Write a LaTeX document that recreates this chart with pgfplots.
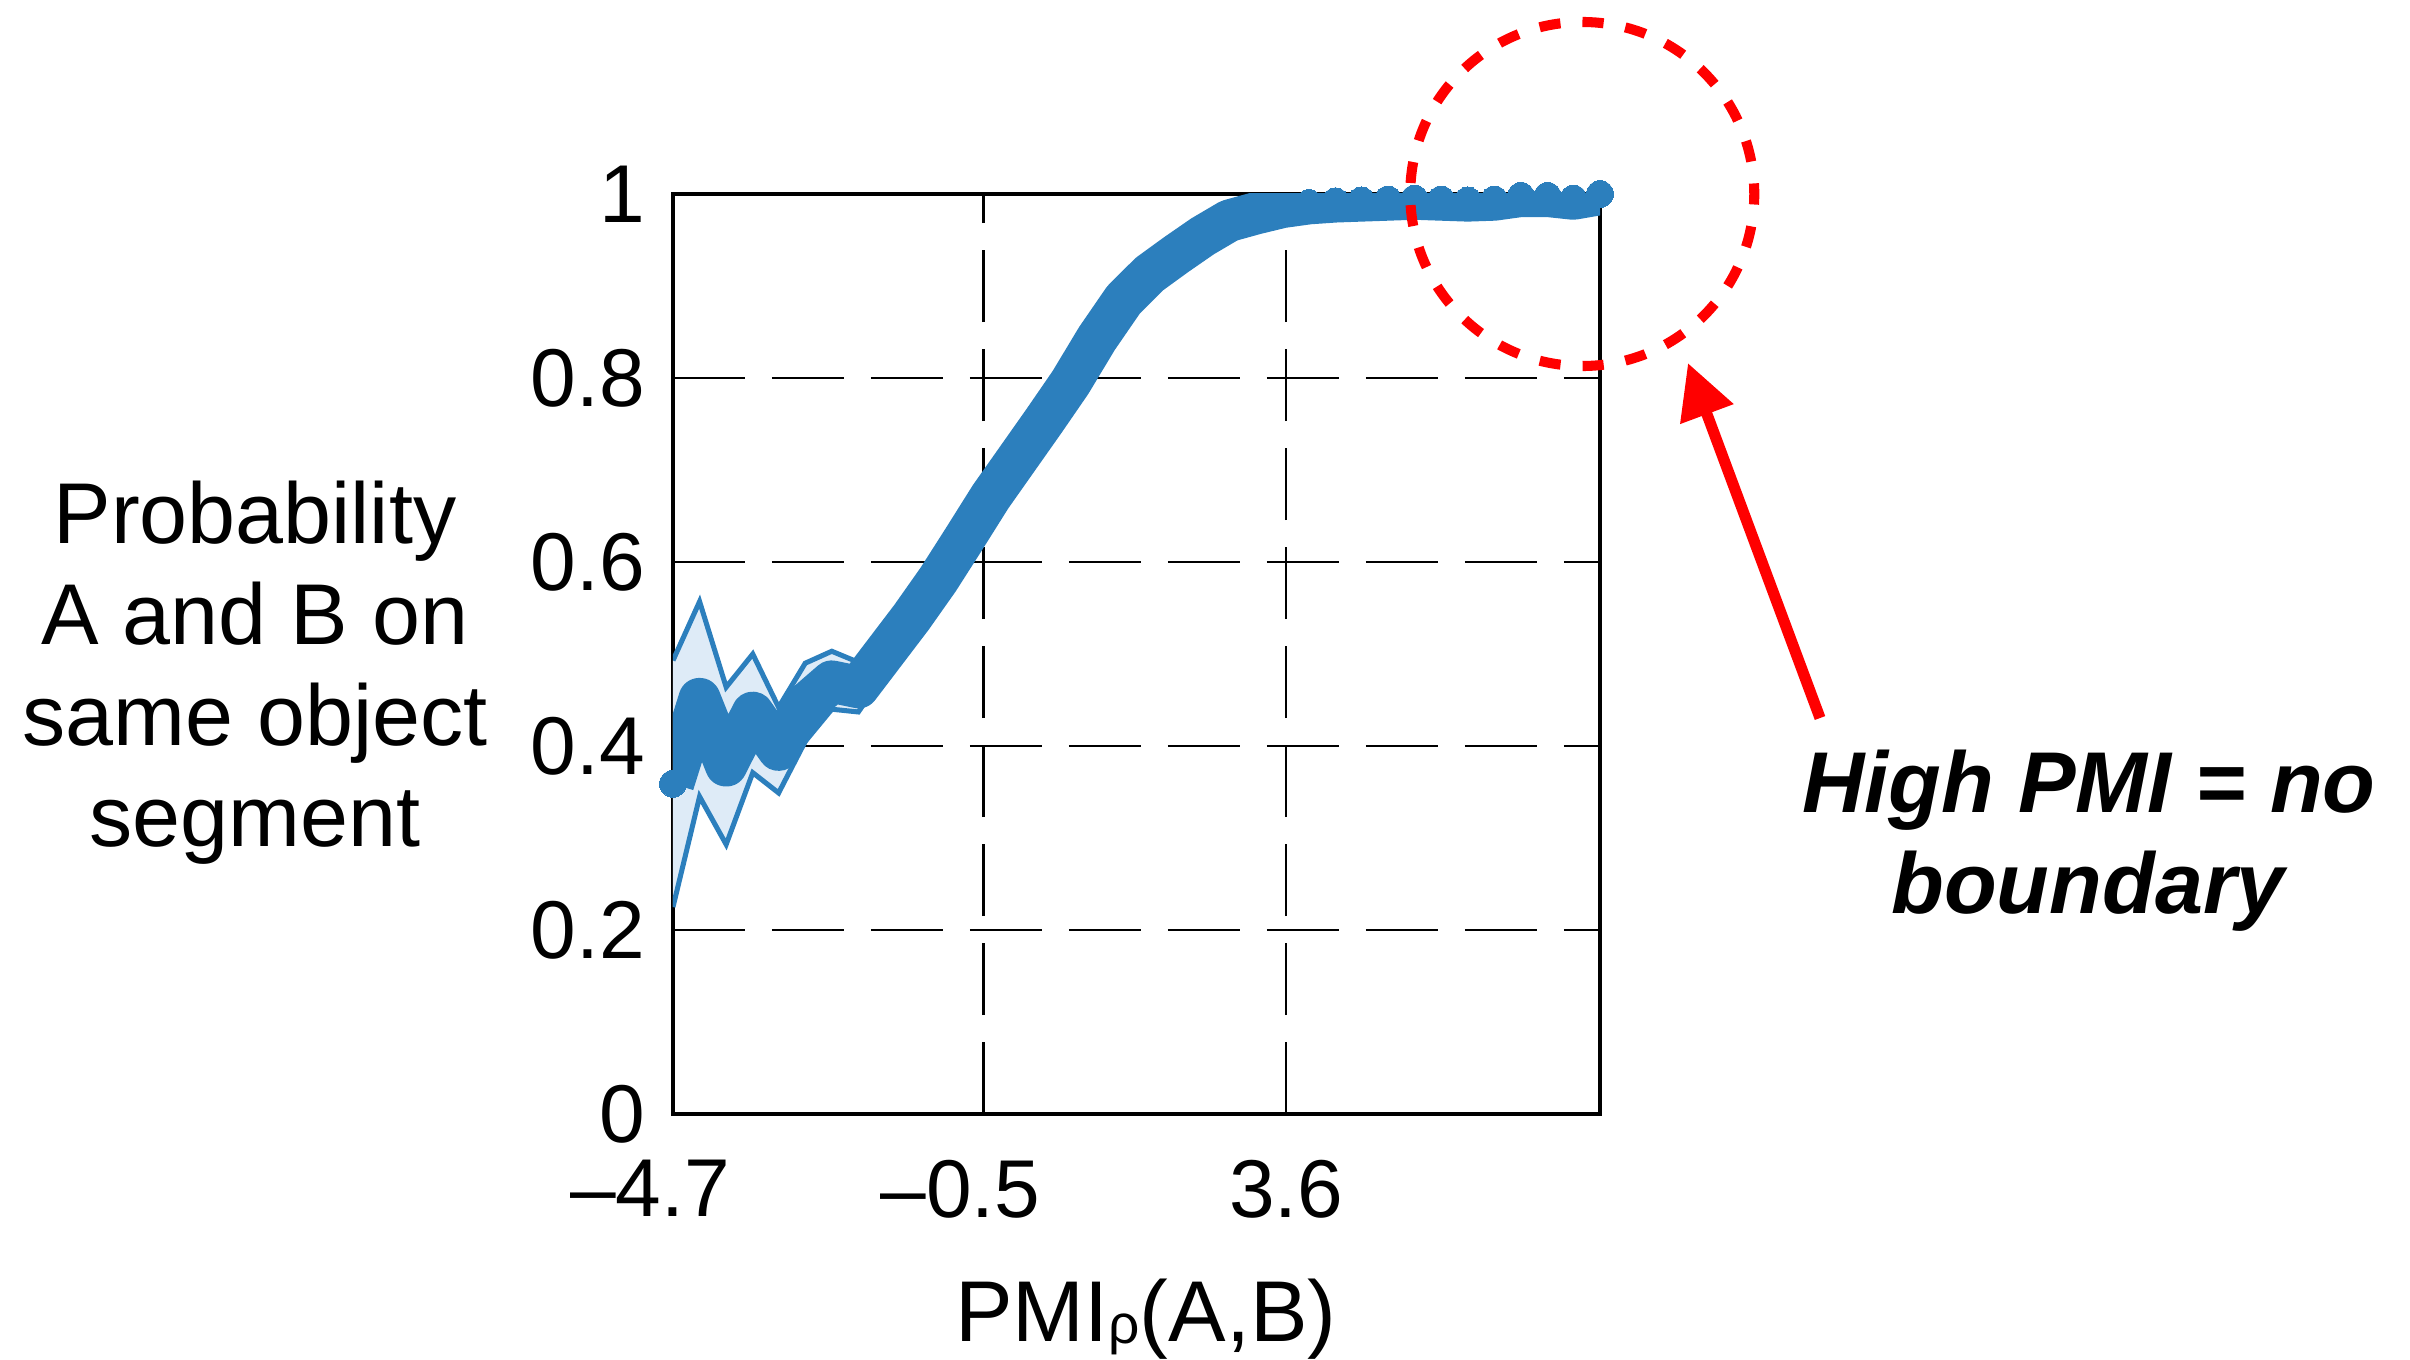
\documentclass[border=0pt]{standalone}
\usepackage{fontspec}
\setmainfont{Liberation Sans}
\usepackage{pgfplots}
\pgfplotsset{compat=1.18}
\usepackage{pgfplotstable}
\usepgfplotslibrary{fillbetween}
\usetikzlibrary{arrows.meta}

\definecolor{mblue}{RGB}{44,127,189}
\definecolor{bandfill}{RGB}{222,235,247}

% PMI bin, mean probability, lower and upper edge of the shaded band
\pgfplotstableread{
x     m     lo    hi
-4.70 0.359 0.225 0.493
-4.34 0.451 0.345 0.557
-3.98 0.379 0.293 0.464
-3.62 0.436 0.371 0.500
-3.27 0.396 0.349 0.442
-2.91 0.445 0.405 0.490
-2.55 0.470 0.440 0.503
-2.19 0.464 0.437 0.491
-1.83 0.502 0.480 0.524
-1.47 0.540 0.520 0.560
-1.11 0.581 0.563 0.599
-0.76 0.625 0.608 0.642
-0.40 0.671 0.655 0.687
-0.04 0.712 0.697 0.727
0.32  0.753 0.739 0.767
0.68  0.795 0.782 0.808
1.04  0.843 0.831 0.855
1.40  0.885 0.874 0.896
1.75  0.913 0.903 0.923
2.11  0.934 0.925 0.943
2.47  0.954 0.946 0.962
2.83  0.971 0.964 0.978
3.19  0.979 0.973 0.985
3.55  0.986 0.981 0.991
3.91  0.990 0.986 0.994
4.27  0.992 0.988 0.996
4.62  0.993 0.990 0.996
4.98  0.994 0.991 0.997
5.34  0.995 0.992 0.998
5.70  0.994 0.991 0.997
6.06  0.993 0.990 0.996
6.42  0.994 0.991 0.997
6.78  0.998 0.996 1.000
7.14  0.998 0.996 1.000
7.49  0.995 0.992 0.998
7.85  1.000 1.000 1.000
}\pmidata

\begin{document}
\begin{tikzpicture}
\begin{axis}[
  at={(0,0)}, anchor=south west,
  scale only axis, width=6.154cm, height=6.108cm,
  xmin=-4.7, xmax=7.85, ymin=0, ymax=1,
  xtick={-4.7,-0.5,3.6},
  xticklabels={\llap{\textendash}4.7,\llap{\textendash}0.5,3.6},
  ytick={0,0.2,0.4,0.6,0.8,1},
  /pgf/number format/assume math mode=true,
  ticklabel style={font=\fontsize{15.5}{18}\selectfont},
  xticklabel style={anchor=north, inner sep=0pt, yshift=-8.5pt},
  yticklabel style={anchor=east, inner sep=0pt, xshift=-5.1pt},
  label style={font=\fontsize{16.3}{19.1}\selectfont},
  xlabel={PMI\raisebox{-0.4pt}{\fontsize{10.4}{12}\selectfont ρ}(A,B)},
  xlabel style={at={(axis description cs:0.51,-0.247)}, anchor=base},
  ylabel={Probability\\A and B on\\same object\\segment},
  ylabel style={rotate=-90, align=center, at={(axis description cs:-0.451,0.48)}, anchor=center},
  grid=major,
  grid style={black, line width=0.5pt, dash pattern=on 13.6pt off 5.1pt},
  axis line style={black, line width=0.75pt},
  major tick style={black, line width=0.5pt},
  major tick length=2.5pt,
  clip mode=individual,
]
  \addplot[name path=hi, mblue, line width=0.95pt] table[x=x, y=hi] {\pmidata};
  \addplot[name path=lo, mblue, line width=0.95pt] table[x=x, y=lo] {\pmidata};
  \addplot[bandfill] fill between[of=hi and lo];
  \addplot[mblue, line width=8pt, line join=round,
    mark=*, mark size=2.55pt, mark options={line width=0pt, draw=mblue, fill=mblue}]
    table[x=x, y=m] {\pmidata};
  \coordinate (circ) at (axis cs:7.61,1.0);
\end{axis}
\draw[red, line width=1.9pt, dash pattern=on 4pt off 4.168pt, dash phase=2pt]
  (circ) circle[radius=1.142cm];
\draw[red, line width=2.1pt, -{Triangle[length=10.3pt, width=10.2pt]}]
  (7.615,2.629) -- (6.738,4.986);
\node[anchor=base, font=\fontsize{16.3}{19.1}\selectfont\bfseries\itshape]
  at (9.401,2.005) {High PMI = no};
\node[anchor=base, font=\fontsize{16.3}{19.1}\selectfont\bfseries\itshape]
  at (9.394,1.334) {boundary};
\pgfresetboundingbox
\path[use as bounding box] (-4.468,-1.627) rectangle (11.532,7.396);
\end{tikzpicture}
\end{document}
